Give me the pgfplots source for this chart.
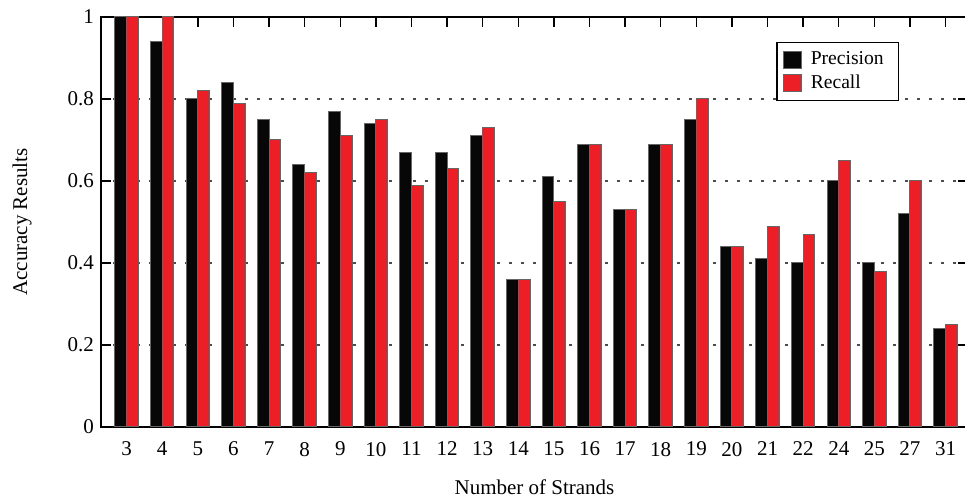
\documentclass[border=0pt]{standalone}
\usepackage{fontspec}
\setmainfont{Liberation Serif}
\usepackage{pgfplots}
\pgfplotsset{compat=1.18}
\definecolor{barred}{RGB}{237,31,38}
\definecolor{barblack}{RGB}{7,7,7}
\begin{document}
\begin{tikzpicture}
\begin{axis}[
  name=ax,
  scale only axis,
  width=433.5pt, height=205pt,
  ybar=0pt, bar width=0.33,
  xmin=-0.72, xmax=23.63,
  ymin=0, ymax=1,
  xtick={0,...,23},
  xticklabels={3,4,5,6,7,8,9,10,11,12,13,14,15,16,17,18,19,20,21,22,24,25,27,31},
  ytick={0,0.2,0.4,0.6,0.8,1},
  yticklabels={0,0.2,0.4,0.6,0.8,1},
  xticklabel pos=left, yticklabel pos=left,
  xtick pos=both, ytick pos=both,
  tick align=inside,
  major tick length=5pt,
  every tick/.style={black, line width=0.7pt},
  axis line style={black, line width=0.9pt},
  ymajorgrids,
  grid style={dash pattern=on 1.5pt off 4.5pt, line width=0.7pt, black!70},
  ticklabel style={font=\fontsize{10.5}{12}\selectfont},
  /pgf/number format/assume math mode=true,
  xticklabel style={yshift=-4pt},
  xlabel={Number of Strands},
  ylabel={Accuracy Results},
  label style={font=\fontsize{10.5}{12}\selectfont},
  xlabel style={at={(axis description cs:0.5,-0.146)}, anchor=center},
  ylabel style={at={(axis description cs:-0.091,0.5)}, anchor=center},
  legend style={at={(axis description cs:0.779,0.939)}, anchor=north west,
    draw=black, line width=0.6pt, fill=white,
    font=\fontsize{9.8}{11.5}\selectfont, inner xsep=3pt, inner ysep=2.5pt,
    row sep=-0.5pt, nodes={inner xsep=4.5pt}},
  legend cell align=left,
  legend image code/.code={\draw[#1, draw=black!60, line width=0.4pt] (0pt,-4.25pt) rectangle (9pt,4.25pt);},
]
\addplot[fill=barblack, draw=black!60, line width=0.5pt] coordinates {
(0,1.00) (1,0.94) (2,0.80) (3,0.84) (4,0.75) (5,0.64) (6,0.77) (7,0.74)
(8,0.67) (9,0.67) (10,0.71) (11,0.36) (12,0.61) (13,0.69) (14,0.53) (15,0.69)
(16,0.75) (17,0.44) (18,0.41) (19,0.40) (20,0.60) (21,0.40) (22,0.52) (23,0.24)};
\addlegendentry{Precision}
\addplot[fill=barred, draw=black!60, line width=0.5pt] coordinates {
(0,1.00) (1,1.00) (2,0.82) (3,0.79) (4,0.70) (5,0.62) (6,0.71) (7,0.75)
(8,0.59) (9,0.63) (10,0.73) (11,0.36) (12,0.55) (13,0.69) (14,0.53) (15,0.69)
(16,0.80) (17,0.44) (18,0.49) (19,0.47) (20,0.65) (21,0.38) (22,0.60) (23,0.25)};
\addlegendentry{Recall}
\pgfplotsinvokeforeach{2,...,23}{
  \draw[black, line width=0.7pt] (axis cs:#1,1) -- ++(0pt,-5pt);
}
\end{axis}
\pgfresetboundingbox
\path (ax.south west) ++(-50.5pt,-34.5pt) rectangle ++(482.5pt,248pt);
\end{tikzpicture}
\end{document}
